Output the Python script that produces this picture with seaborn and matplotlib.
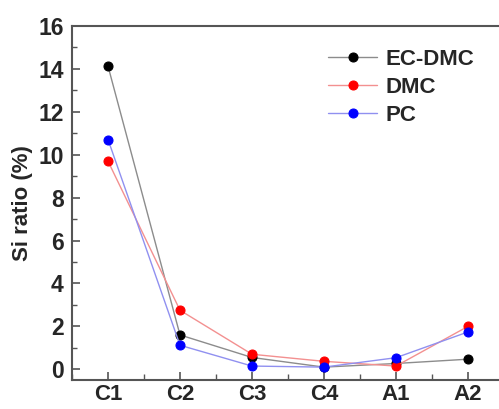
import pandas as pd
import matplotlib
matplotlib.use("Agg")
import matplotlib.pyplot as plt
import seaborn as sns
from matplotlib.ticker import MultipleLocator

# data
samples = ["C1", "C2", "C3", "C4", "A1", "A2"]
ec_dmc = [14.13, 1.60, 0.55, 0.10, 0.27, 0.47]
dmc = [9.70, 2.75, 0.70, 0.37, 0.15, 2.00]
pc = [10.71, 1.12, 0.15, 0.10, 0.54, 1.74]

series_names = ["EC-DMC", "DMC", "PC"]
marker_colors = ["#000000", "#ff0000", "#0000ff"]
line_colors = ["#8c8c8c", "#f39090", "#9090f0"]

df = pd.DataFrame({
    "sample": samples * 3,
    "ratio": ec_dmc + dmc + pc,
    "solvent": [n for n in series_names for _ in samples],
})

sns.set_style("ticks")
plt.rcParams["font.family"] = ["Liberation Sans", "DejaVu Sans"]
plt.rcParams["font.weight"] = "bold"

fig = plt.figure(figsize=(4.99, 4.09), dpi=100)
ax = fig.add_axes([0.1443, 0.0709, 0.8657, 0.8655])

sns.lineplot(data=df, x="sample", y="ratio", hue="solvent",
             palette=dict(zip(series_names, line_colors)),
             marker="o", markersize=6.5, linewidth=1.0, sort=False, ax=ax)

# solid markers on the lighter lines
for line, mc in zip(ax.lines, marker_colors):
    line.set_markerfacecolor(mc)
    line.set_markeredgecolor(mc)

ax.set_xlim(-0.5, 5.5)
ax.set_ylim(-0.5, 16)
ax.yaxis.set_major_locator(MultipleLocator(2))
ax.yaxis.set_minor_locator(MultipleLocator(1))
ax.xaxis.set_minor_locator(MultipleLocator(0.5))
ax.tick_params(direction="in", which="major", length=6, width=1.2,
               color="#555555", labelsize=16.5, pad=6)
ax.tick_params(direction="in", which="minor", length=3.5, width=1.0,
               color="#555555")
ax.tick_params(axis="x", which="minor", length=4)
ax.tick_params(axis="x", which="major", pad=3, labelsize=16)
for sp in ax.spines.values():
    sp.set_color("#555555")
    sp.set_linewidth(1.5)

ax.set_xlabel("")
ax.set_ylabel("Si ratio (%)", fontsize=16, fontweight="bold", labelpad=4)
for lab in ax.get_xticklabels() + ax.get_yticklabels():
    lab.set_fontweight("bold")

handles, labels = ax.get_legend_handles_labels()
for h, mc in zip(handles, marker_colors):
    h.set_markerfacecolor(mc)
    h.set_markeredgecolor(mc)
ax.legend(handles, labels, frameon=False, loc="upper left",
          bbox_to_anchor=(0.557, 0.98), prop={"size": 16, "weight": "bold"},
          handlelength=2.2, handletextpad=0.4, labelspacing=0.32,
          borderpad=0.2)

fig.savefig("out.png", dpi=100)
